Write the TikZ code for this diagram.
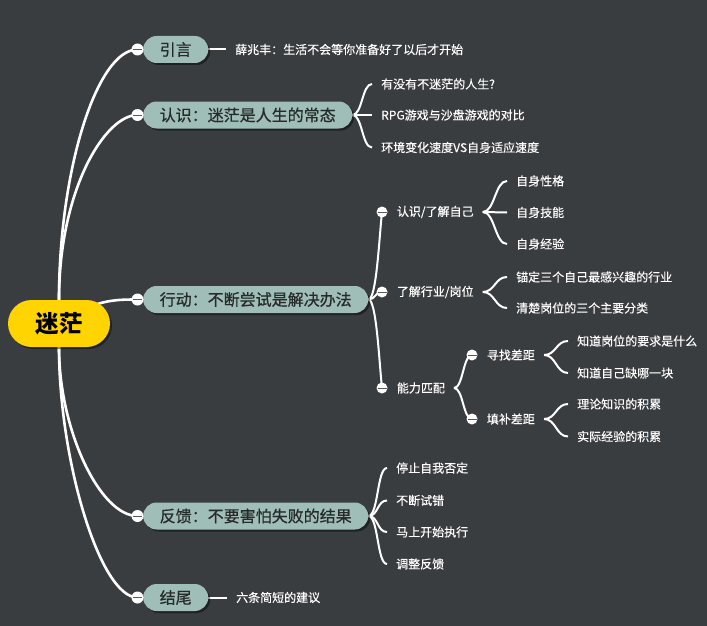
\documentclass[tikz,border=0pt]{standalone}
\usepackage{fontspec}
\setmainfont{Noto Sans CJK SC}
\newfontfamily\topicfont[FakeBold=0.6]{Noto Sans CJK SC}
\newfontfamily\leaffont[FakeBold=0.25]{Noto Sans CJK SC}
\usetikzlibrary{shadows}
\definecolor{bgc}{RGB}{58,61,64}
\definecolor{brfill}{RGB}{159,190,183}
\definecolor{brtext}{RGB}{38,42,42}
\definecolor{mainy}{RGB}{255,212,0}
\pgfdeclarelayer{back}
\pgfdeclarelayer{lines}
\pgfsetlayers{back,lines,main}
\begin{document}
\begin{tikzpicture}[x=1pt,y=-1pt,
  mainnode/.style={fill=mainy, rounded corners=23.5pt, minimum width=102pt, minimum height=47pt,
    inner sep=0pt, text=black, font=\fontsize{23.5}{23.5}\selectfont\bfseries,
    drop shadow={shadow xshift=2pt,shadow yshift=-2pt,opacity=0.45,fill=black}},
  topic/.style={anchor=west, rounded corners=13.5pt, fill=brfill, text=brtext,
    font=\topicfont\fontsize{16}{16}\selectfont, minimum height=27pt, inner xsep=16.5pt, inner ysep=0pt,
    drop shadow={shadow xshift=2pt,shadow yshift=-2pt,opacity=0.45,fill=black}},
  collapse/.style={circle, fill=white, minimum size=12pt, inner sep=0pt,
    path picture={\draw[line width=1pt, black!65] ([xshift=-4.5pt]path picture bounding box.center) -- ([xshift=4.5pt]path picture bounding box.center);}},
  collapsesm/.style={collapse, minimum size=11pt},
  leaf/.style={anchor=west, text=white, font=\leaffont\fontsize{12}{12}\selectfont, inner xsep=9pt, inner ysep=2pt},
  mainline/.style={draw=white, line width=2.6pt},
  subline/.style={draw=white, line width=2pt},
]
\begin{pgfonlayer}{back}
\fill[bgc] (0,0) rectangle (707,626);
\end{pgfonlayer}
\useasboundingbox (0,0) rectangle (707,626);

% main topic
\node[mainnode] (main) at (59,323.5) {迷茫};

% first-level topics
\node[topic] (t1) at (143,49.5) {引言};
\node[collapse] (c1) at (137.5,49.5) {};
\node[topic] (t2) at (143,115) {认识：迷茫是人生的常态};
\node[collapse] (c2) at (137.5,115) {};
\node[topic] (t3) at (143,299.5) {行动：不断尝试是解决办法};
\node[collapse] (c3) at (137.5,299.5) {};
\node[topic] (t4) at (143,516) {反馈：不要害怕失败的结果};
\node[collapse] (c4) at (137.5,516) {};
\node[topic] (t5) at (143,597.5) {结尾};
\node[collapse] (c5) at (137.5,597.5) {};

% 引言
\node[leaf] (t1a) at (226,49.5) {薛兆丰：生活不会等你准备好了以后才开始};
% 认识
\node[leaf] (t2a) at (372,84) {有没有不迷茫的人生?};
\node[leaf] (t2b) at (372,115) {RPG游戏与沙盘游戏的对比};
\node[leaf] (t2c) at (372,147.5) {环境变化速度VS自身适应速度};
% 行动
\node[collapsesm] (c31) at (382,212) {};
\node[leaf] (l1) at (c31.east) {认识/了解自己};
\node[collapsesm] (c32) at (382,292) {};
\node[leaf] (l2) at (c32.east) {了解行业/岗位};
\node[collapsesm] (c33) at (382,388) {};
\node[leaf] (l3) at (c33.east) {能力匹配};

\node[leaf] (l1a) at (507,181) {自身性格};
\node[leaf] (l1b) at (507,212.5) {自身技能};
\node[leaf] (l1c) at (507,244) {自身经验};

\node[leaf] (l2a) at (507,277) {锚定三个自己最感兴趣的行业};
\node[leaf] (l2b) at (507,308) {清楚岗位的三个主要分类};

\node[collapsesm] (c3a) at (472,355) {};
\node[leaf] (l3a) at (c3a.east) {寻找差距};
\node[collapsesm] (c3b) at (472,419) {};
\node[leaf] (l3b) at (c3b.east) {填补差距};

\node[leaf] (l3a1) at (568,341) {知道岗位的要求是什么};
\node[leaf] (l3a2) at (568,373) {知道自己缺哪一块};
\node[leaf] (l3b1) at (568,404) {理论知识的积累};
\node[leaf] (l3b2) at (568,436.5) {实际经验的积累};

% 反馈
\node[leaf] (t4a) at (387,468) {停止自我否定};
\node[leaf] (t4b) at (387,500.5) {不断试错};
\node[leaf] (t4c) at (387,532) {马上开始执行};
\node[leaf] (t4d) at (387,564) {调整反馈};

% 结尾
\node[leaf] (t5a) at (227,597.5) {六条简短的建议};

\begin{pgfonlayer}{lines}
% main curves
\draw[mainline] (main.north) .. controls (59,170) and (97,49.5) .. (c1.center);
\draw[mainline] (main.north) .. controls (59,190) and (105,115) .. (c2.center);
\draw[mainline] (main.center) .. controls (95,300) and (112,299.5) .. (c3.center);
\draw[mainline] (main.south) .. controls (59,430) and (100,516) .. (c4.center);
\draw[mainline] (main.south) .. controls (59,460) and (100,597.5) .. (c5.center);

% single lines
\draw[subline] (t1.east) -- (t1a.west);
\draw[subline] (t5.east) -- (t5a.west);

% braces
\foreach \k in {t2a,t2b,t2c}
  \draw[subline] (t2.east) .. controls +(10,0) and +(-10,0) .. (\k.west);
\draw[subline] (t3.east) .. controls +(8,0) and +(-3,28) .. (c31.center);
\draw[subline] (t3.east) .. controls +(7,0) and +(-7,0) .. (c32.center);
\draw[subline] (t3.east) .. controls +(8,0) and +(-3,-28) .. (c33.center);
\foreach \k in {l1a,l1b,l1c}
  \draw[subline] (l1.east) .. controls +(12,0) and +(-12,0) .. (\k.west);
\foreach \k in {l2a,l2b}
  \draw[subline] (l2.east) .. controls +(12,0) and +(-12,0) .. (\k.west);
\draw[subline] (l3.east) .. controls +(9,0) and +(-9,0) .. (c3a.center);
\draw[subline] (l3.east) .. controls +(9,0) and +(-9,0) .. (c3b.center);
\foreach \k in {l3a1,l3a2}
  \draw[subline] (l3a.east) .. controls +(12,0) and +(-12,0) .. (\k.west);
\foreach \k in {l3b1,l3b2}
  \draw[subline] (l3b.east) .. controls +(12,0) and +(-12,0) .. (\k.west);
\foreach \k in {t4a,t4b,t4c,t4d}
  \draw[subline] (t4.east) .. controls +(10,0) and +(-10,0) .. (\k.west);
\end{pgfonlayer}
\end{tikzpicture}
\end{document}
